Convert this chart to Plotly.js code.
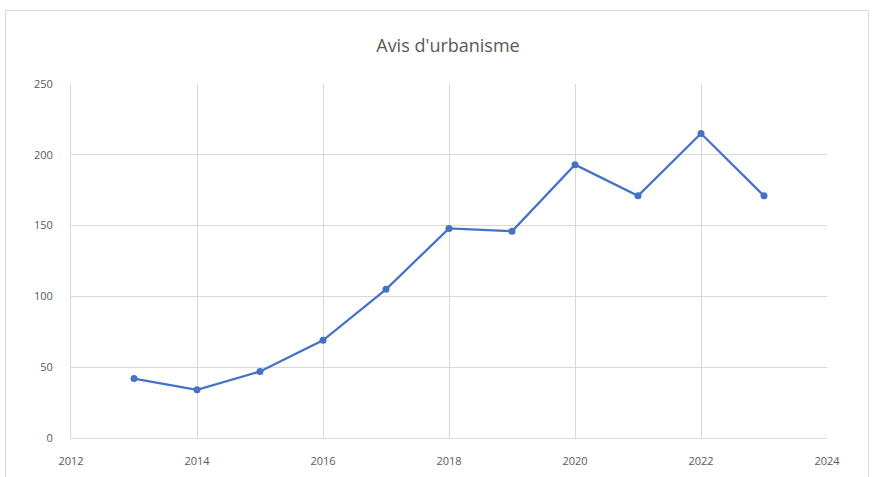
<!DOCTYPE html>
<html>
<head>
<meta charset="utf-8">
<script src="https://cdn.plot.ly/plotly-3.0.1.min.js"></script>
<style>
html,body{margin:0;padding:0;background:#fff;}
#frame{position:absolute;left:5px;top:10px;width:864px;height:470px;border:1px solid #d9d9d9;box-sizing:border-box;pointer-events:none;}
#chart{position:absolute;left:0;top:0;width:875px;height:477px;}
</style>
</head>
<body>
<div id="chart"></div>
<div id="frame"></div>
<script>
const years = [2013, 2014, 2015, 2016, 2017, 2018, 2019, 2020, 2021, 2022, 2023];
const avis = [42, 34, 47, 69, 105, 148, 146, 193, 171, 215, 171];
const xTicks = [2012, 2014, 2016, 2018, 2020, 2022, 2024];
const yTicks = [0, 50, 100, 150, 200, 250];

const trace = {
  x: years,
  y: avis,
  type: 'scatter',
  mode: 'lines+markers',
  line: {color: '#4472c4', width: 2.25},
  marker: {color: '#4472c4', size: 7},
  hoverinfo: 'skip'
};

const layout = {
  width: 875,
  height: 477,
  margin: {l: 71, r: 48, t: 84, b: 39},
  paper_bgcolor: '#ffffff',
  plot_bgcolor: '#ffffff',
  showlegend: false,
  font: {family: 'Open Sans, Liberation Sans, sans-serif', color: '#595959'},
  title: {
    text: "Avis d'urbanisme",
    font: {size: 18, color: '#595959', family: 'Open Sans, sans-serif'},
    x: 0.512, xanchor: 'center', y: 0.905, yanchor: 'middle'
  },
  xaxis: {
    range: [2012, 2024],
    tickvals: xTicks,
    ticktext: xTicks.map(String),
    showgrid: true,
    gridcolor: '#d9d9d9',
    gridwidth: 1,
    zeroline: false,
    showline: true,
    linecolor: '#d9d9d9',
    ticks: 'outside',
    ticklen: 13,
    tickcolor: 'rgba(0,0,0,0)',
    tickfont: {size: 11, color: '#595959'},
    fixedrange: true
  },
  yaxis: {
    range: [0, 250],
    tickvals: yTicks,
    ticktext: yTicks.map(String),
    showgrid: true,
    gridcolor: '#d9d9d9',
    gridwidth: 1,
    zeroline: false,
    showline: true,
    linecolor: '#d9d9d9',
    ticks: 'outside',
    ticklen: 15,
    tickcolor: 'rgba(0,0,0,0)',
    tickfont: {size: 11, color: '#595959'},
    fixedrange: true
  }
};

Plotly.newPlot('chart', [trace], layout, {displayModeBar: false, staticPlot: true});
</script>
</body>
</html>
